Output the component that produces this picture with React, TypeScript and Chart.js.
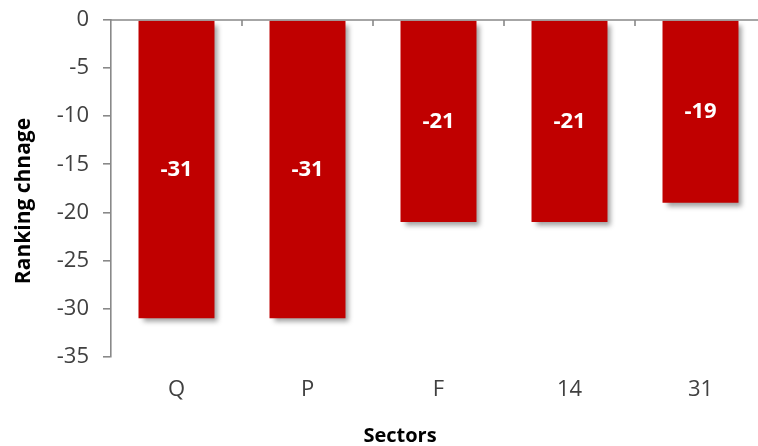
import React, { useEffect, useRef } from "react";
import { Chart, registerables } from "chart.js";

Chart.register(...registerables);

const categories = ["Q", "P", "F", "14", "31"];
const rankingChange = [-31, -31, -21, -21, -19];
const yMin = -35;
const yMax = 0;
const yStep = 5;
const xTitle = "Sectors";
const yTitle = "Ranking chnage";

const FONT = "'Open Sans', 'Noto Sans', sans-serif";
const AXIS_COLOR = "#898989";
const BAR_COLOR = "#C00000";

const shadowAndLabels = {
  id: "shadowAndLabels",
  beforeDatasetsDraw(chart: any) {
    const ctx = chart.ctx;
    ctx.save();
    ctx.shadowColor = "rgba(0,0,0,0.38)";
    ctx.shadowBlur = 5;
    ctx.shadowOffsetX = 4;
    ctx.shadowOffsetY = 4;
  },
  afterDatasetsDraw(chart: any) {
    const ctx = chart.ctx;
    ctx.restore();
    // top axis line (value 0) with inward ticks at category boundaries
    const x = chart.scales.x;
    const y = chart.scales.y;
    const yz = y.getPixelForValue(0);
    const area = chart.chartArea;
    ctx.save();
    ctx.strokeStyle = AXIS_COLOR;
    ctx.lineWidth = 1.6;
    ctx.beginPath();
    ctx.moveTo(area.left, yz);
    ctx.lineTo(area.right, yz);
    const n = categories.length;
    const half = (x.getPixelForValue(1) - x.getPixelForValue(0)) / 2;
    for (let i = 1; i <= n; i++) {
      const bx = x.getPixelForValue(i - 1) + half;
      ctx.moveTo(bx, yz);
      ctx.lineTo(bx, yz + 6);
    }
    ctx.stroke();
    // data labels
    const meta = chart.getDatasetMeta(0);
    ctx.fillStyle = "#ffffff";
    ctx.font = `bold 22px ${FONT}`;
    ctx.textAlign = "center";
    ctx.textBaseline = "middle";
    meta.data.forEach((bar: any, i: number) => {
      const cy = (bar.y + bar.base) / 2;
      ctx.fillText(String(rankingChange[i]), bar.x, cy);
    });
    // axis titles
    ctx.fillStyle = "#000000";
    ctx.font = `bold 20px ${FONT}`;
    ctx.fillText(xTitle, 400, 436);
    ctx.save();
    ctx.translate(24, 201);
    ctx.rotate(-Math.PI / 2);
    ctx.font = `bold 21px ${FONT}`;
    ctx.fillText(yTitle, 0, 0);
    ctx.restore();
    ctx.restore();
  },
};

export default function App() {
  const ref = useRef<HTMLCanvasElement>(null);
  useEffect(() => {
    document.body.style.margin = "0";
    document.body.style.overflow = "hidden";
    const chart = new Chart(ref.current!, {
      type: "bar",
      data: {
        labels: categories,
        datasets: [
          {
            data: rankingChange,
            backgroundColor: BAR_COLOR,
            borderWidth: 0,
            categoryPercentage: 1,
            barPercentage: 0.58,
          },
        ],
      },
      plugins: [shadowAndLabels],
      options: {
        responsive: false,
        animation: false,
        layout: { padding: { top: 20, left: 6, right: 0, bottom: 23 } },
        plugins: {
          legend: { display: false },
          tooltip: { enabled: false },
        },
        scales: {
          x: {
            position: "bottom",
            grid: { display: false, drawTicks: false },
            border: { display: false },
            ticks: {
              color: "#404040",
              font: { family: FONT, size: 22 },
              padding: 20,
            },
          },
          y: {
            min: yMin,
            max: yMax,
            ticks: {
              stepSize: yStep,
              color: "#404040",
              font: { family: FONT, size: 22 },
              padding: 14,
            },
            grid: {
              drawOnChartArea: false,
              drawTicks: true,
              tickLength: 8,
              color: AXIS_COLOR,
              lineWidth: 1.6,
            },
            border: { color: AXIS_COLOR, width: 1.6 },
            afterFit(scale: any) {
              scale.width = 105;
              scale.paddingTop = 0;
              scale.paddingBottom = 0;
            },
          },
        },
      },
    });
    return () => chart.destroy();
  }, []);
  return (
    <div style={{ width: 758, height: 446, overflow: "hidden", position: "relative" }}>
      <canvas ref={ref} width={766} height={446} style={{ width: 766, height: 446, display: "block" }} />
    </div>
  );
}
